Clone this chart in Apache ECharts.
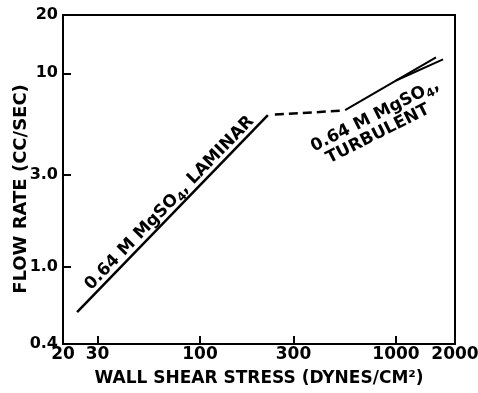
<!DOCTYPE html>
<html>
<head>
<meta charset="utf-8">
<script src="https://cdn.jsdelivr.net/npm/echarts@6/dist/echarts.min.js"></script>
<style>
  html, body { margin: 0; padding: 0; background: #fff; }
  #chart { width: 478px; height: 393px; }
</style>
</head>
<body>
<div id="chart"></div>
<script>
// Flow rate vs wall shear stress for 0.64 M MgSO4 (log-log)
const laminarStress = [23.6, 222];
const laminarFlow = [0.585, 6.08];
const transitionStress = [241, 540];
const transitionFlow = [6.12, 6.42];
const turbulentStressA = [550, 1600];
const turbulentFlowA = [6.46, 12.1];
const turbulentStressB = [1000, 1738];
const turbulentFlowB = [9.18, 11.8];

const xTickValues = [20, 30, 100, 300, 1000, 2000];
const xTickLabels = ['20', '30', '100', '300', '1000', '2000'];
const yTickValues = [0.4, 1, 3, 10, 20];
const yTickLabels = ['0.4', '1.0', '3.0', '10', '20'];

const FONT = '"DejaVu Sans", sans-serif';

function zip(xs, ys) { return xs.map((x, i) => [x, ys[i]]); }
function nearestLabel(v, values, labels) {
  let best = 0;
  for (let i = 1; i < values.length; i++) {
    if (Math.abs(Math.log(values[i] / v)) < Math.abs(Math.log(values[best] / v))) best = i;
  }
  return labels[best];
}

const chart = echarts.init(document.getElementById('chart'), null, { renderer: 'canvas' });

const lineStyle = (w, type) => ({ color: '#000', width: w, type: type || 'solid' });

chart.setOption({
  animation: false,
  backgroundColor: '#fff',
  grid: {
    left: 63, top: 15, right: 23, bottom: 49,
    containLabel: false, outerBoundsMode: 'none',
    show: true, borderColor: '#000', borderWidth: 2
  },
  xAxis: {
    type: 'log', logBase: 10, min: 20, max: 2000,
    name: 'WALL SHEAR STRESS (DYNES/CM²)',
    nameLocation: 'middle', nameGap: 26, nameMoveOverlap: false,
    nameTextStyle: { color: '#000', fontFamily: FONT, fontWeight: 'bold', fontSize: 17 },
    axisLine: { show: true, onZero: false, lineStyle: { color: '#000', width: 2 } },
    axisTick: { show: true, inside: true, length: 8, lineStyle: { color: '#000', width: 2 }, customValues: [30, 100, 300, 1000] },
    axisLabel: {
      color: '#000', fontFamily: FONT, fontWeight: 'bold', fontSize: 17, margin: 2,
      customValues: xTickValues,
      formatter: v => nearestLabel(v, xTickValues, xTickLabels)
    },
    splitLine: { show: false }, minorTick: { show: false }
  },
  yAxis: {
    type: 'log', logBase: 10, min: 0.4, max: 20,
    name: 'FLOW RATE (CC/SEC)',
    nameLocation: 'middle', nameGap: 33, nameRotate: 90, nameMoveOverlap: false,
    nameTextStyle: { color: '#000', fontFamily: FONT, fontWeight: 'bold', fontSize: 18, padding: [0, 19, 0, 0] },
    axisLine: { show: true, onZero: false, lineStyle: { color: '#000', width: 2 } },
    axisTick: { show: true, inside: true, length: 8, lineStyle: { color: '#000', width: 2 }, customValues: [1, 3, 10] },
    axisLabel: {
      color: '#000', fontFamily: FONT, fontWeight: 'bold', fontSize: 16, margin: 5,
      customValues: yTickValues,
      formatter: v => nearestLabel(v, yTickValues, yTickLabels)
    },
    splitLine: { show: false }, minorTick: { show: false }
  },
  series: [
    { type: 'line', data: zip(laminarStress, laminarFlow), symbol: 'none', lineStyle: lineStyle(2.5) },
    { type: 'line', data: zip(transitionStress, transitionFlow), symbol: 'none', lineStyle: lineStyle(2.5, [9, 5]) },
    { type: 'line', data: zip(turbulentStressA, turbulentFlowA), symbol: 'none', lineStyle: lineStyle(2) },
    { type: 'line', data: zip(turbulentStressB, turbulentFlowB), symbol: 'none', lineStyle: lineStyle(2) }
  ]
});

// Annotations placed in data space and rotated to follow their lines
function px(p) { return chart.convertToPixel({ gridIndex: 0 }, p); }
function angleOf(a, b) {
  const pa = px(a), pb = px(b);
  return Math.atan2(pa[1] - pb[1], pb[0] - pa[0]);
}
const lamAngle = angleOf([laminarStress[0], laminarFlow[0]], [laminarStress[1], laminarFlow[1]]);
const turbAngle = angleOf([turbulentStressA[0], turbulentFlowA[0]], [turbulentStressA[1], turbulentFlowA[1]]) - 0.06;

const richSub = {
  s: { fontFamily: FONT, fontWeight: 'bold', fontSize: 12, lineHeight: 12, verticalAlign: 'bottom', fill: '#000' }
};
function label(text, at, rot) {
  const p = px(at);
  return {
    type: 'text', x: p[0], y: p[1], rotation: rot,
    style: {
      text: text, fill: '#000', fontFamily: FONT, fontWeight: 'bold', fontSize: 17, lineHeight: 22,
      align: 'center', verticalAlign: 'middle', rich: richSub
    }
  };
}
chart.setOption({
  graphic: [
    label('0.64 M MgSO{s|4}, LAMINAR', [69.9, 2.135], lamAngle),
    label('0.64 M MgSO{s|4},', [782, 6.02], turbAngle),
    label('TURBULENT', [809, 4.85], turbAngle)
  ]
});
</script>
</body>
</html>
